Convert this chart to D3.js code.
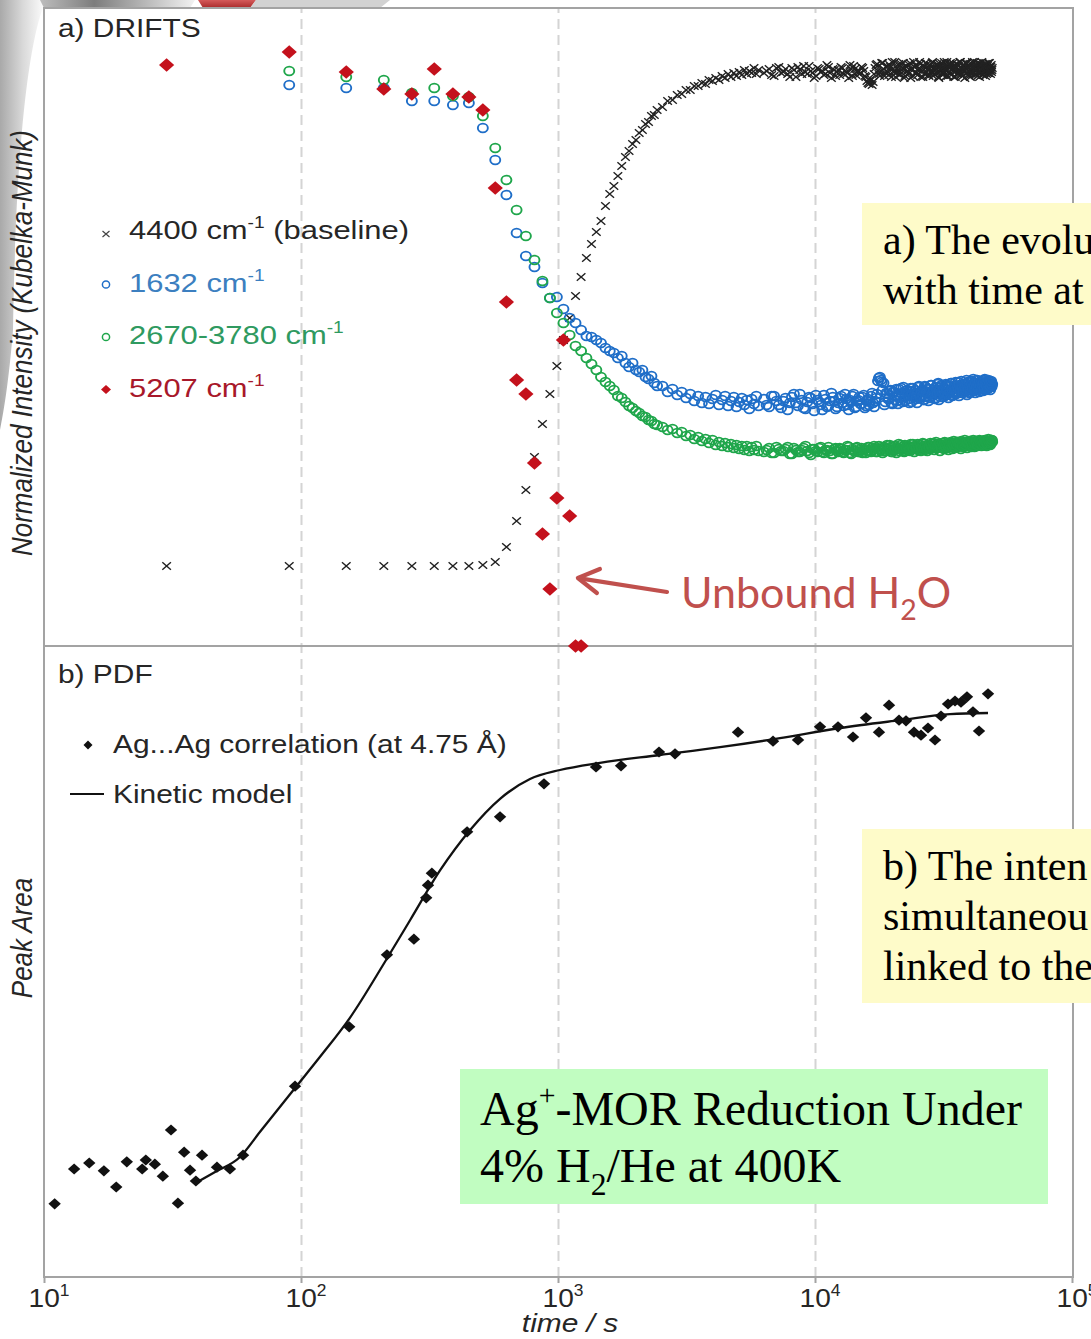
<!DOCTYPE html>
<html>
<head>
<meta charset="utf-8">
<script src="https://cdn.jsdelivr.net/npm/d3@7"></script>
<style>
  html, body { margin: 0; padding: 0; background: #fff; overflow: hidden; }
  svg { display: block; }
</style>
</head>
<body>
<svg id="chart" width="1091" height="1339"></svg>
<script>
// ---------------- data ----------------
// DRIFTS acquisition times (s)
const driftsTimes = [
  30,90,150,210,270,330,390,450,510,570,630,690,750,810,870,930,990,1050,1110,1170,
  1230,1290,1350,1410,1470,1530,1590,1650,1710,1770,1830,1890,1950,2010,2070,2130,2190,2250,2310,2370,
  2430,
  2550,2670,2790,2910,3030,3150,3270,3390,3510,3630,3750,3870,3990,4110,4230,4350,4470,4590,4710,4830,
  4950,5070,5190,5310,5430,5550,5670,5790,5910,6030,
  6330,6630,6930,7230,7530,7830,8130,8430,8730,9030,9330,9630,9930,10230,10530,10830,11130,11430,11730,12030,
  12330,12630,12930,13230,13530,13830,14130,14430,14730,15030,15330,15630,15930,16230,16530,16830,17130,17430,17730,18030,
  18330,18630,18930,19230,19530,19830,20130,20430,20730,21030,21330,21630,21930,22230,22530,22830,23130,23430,23730,24030,
  24330,24630,24930,25230,25530,25830,26130,26430,26730,27030,27330,27630,27930,28230,28530,28830,29130,29430,29730,30030,
  30330,30630,30930,31230,31530,31830,32130,32430,32730,33030,33330,33630,33930,34230,34530,34830,35130,35430,35730,36030,
  36330,36630,36930,37230,37530,37830,38130,38430,38730,39030,39330,39630,39930,40230,40530,40830,41130,41430,41730,42030,
  42330,42630,42930,43230,43530,43830,44130,44430,44730,45030,45330,45630,45930,46230,46530,46830,47130,47430,47730,48030,
  48330,48630,48930
];

// 4400 cm-1 baseline, normalized Kubelka-Munk intensity
const baseline4400 = [
  0,0,0,0,0,0,0,0,0.002,0.008,0.038,0.090,0.152,0.218,0.284,0.344,0.400,0.452,0.496,0.540,
  0.578,0.616,0.644,0.668,0.690,0.720,0.744,0.760,0.780,0.800,0.818,0.830,0.844,0.852,0.866,0.872,0.884,0.888,0.900,0.902,
  0.912,
  0.918,0.930,0.932,0.942,0.944,0.952,0.952,0.960,0.960,0.966,0.964,0.972,0.970,0.976,0.972,0.980,0.976,0.984,0.978,0.986,
  0.980,0.988,0.982,0.992,0.984,0.990,0.986,0.996,0.984,0.992,
  0.986,0.994,0.980,0.998,0.988,0.984,0.996,0.978,0.992,1.000,0.984,0.990,0.976,0.996,0.988,0.982,1.002,0.986,0.994,0.980,
  0.992,0.998,0.984,0.988,0.976,0.994,1.000,0.982,0.990,0.986,0.996,0.980,0.970,0.964,0.974,0.968,
  0.996,1.004,0.984,0.990,1.006,0.980,0.998,0.988,1.002,0.978,0.994,1.008,0.986,0.992,0.982,1.004,0.996,0.976,1.000,0.990,
  0.984,1.006,0.994,0.980,0.998,1.002,0.986,0.992,1.008,0.978,0.990,1.000,0.984,0.996,1.004,0.982,0.994,0.988,1.006,0.980,
  0.998,0.992,1.002,0.986,0.976,1.004,0.990,0.996,0.984,1.008,0.992,0.980,1.000,0.988,0.996,1.006,0.982,0.994,0.990,1.002,
  0.978,0.998,1.004,0.986,0.992,1.008,0.984,0.996,0.980,1.000,0.990,1.006,0.986,0.994,0.982,1.002,0.998,0.978,0.992,1.004,
  0.988,0.996,1.008,0.984,0.990,1.000,0.980,0.994,1.006,0.986,0.998,0.992,1.002,0.982,0.996,0.988,1.004,0.990,0.984,1.000,
  0.994,0.986,1.006,0.992,0.998,0.988,0.996
];

// 1632 cm-1 band
const band1632 = [
  null,0.962,0.956,0.956,0.930,0.930,0.922,0.926,0.876,0.812,0.742,0.666,0.620,0.598,0.566,0.536,0.538,0.514,0.496,0.486,
  0.472,0.460,0.458,0.452,0.446,0.436,0.430,0.426,0.416,0.420,0.406,0.398,0.406,0.392,0.388,0.392,0.378,0.374,0.380,0.366,
  0.360,
  0.360,0.348,0.354,0.342,0.348,0.336,0.344,0.330,0.340,0.326,0.338,0.324,0.334,0.342,0.322,0.332,0.340,0.320,0.330,0.338,
  0.318,0.328,0.336,0.322,0.332,0.314,0.334,0.324,0.340,0.320,
  0.334,0.318,0.340,0.322,0.330,0.312,0.338,0.326,0.344,0.316,0.328,0.336,0.310,0.332,0.322,0.342,0.318,0.330,0.338,0.314,
  0.326,0.340,0.320,0.334,0.312,0.328,0.344,0.318,0.332,0.324,0.338,0.316,0.330,0.322,0.340,0.326,
  0.330,0.344,0.376,0.372,0.352,0.322,0.346,0.334,0.350,0.326,0.348,0.332,0.354,0.324,0.342,0.356,0.328,0.346,0.338,0.352,
  0.334,0.350,0.328,0.356,0.340,0.346,0.326,0.358,0.336,0.348,0.352,0.332,0.360,0.338,0.354,0.330,0.348,0.362,0.340,0.344,
  0.356,0.336,0.350,0.364,0.332,0.352,0.344,0.360,0.338,0.354,0.342,0.362,0.346,0.336,0.358,0.350,0.366,0.340,0.354,0.348,
  0.360,0.344,0.356,0.368,0.340,0.352,0.362,0.346,0.358,0.350,0.364,0.348,0.358,0.342,0.368,0.354,0.346,0.362,0.352,0.370,
  0.350,0.360,0.366,0.346,0.358,0.372,0.352,0.364,0.348,0.362,0.368,0.354,0.362,0.350,0.372,0.358,0.366,0.352,0.364,0.360,
  0.356,0.370,0.362,0.352,0.368,0.358,0.364
];

// 2670-3780 cm-1 band
const band2670 = [
  null,0.990,0.978,0.972,0.946,0.956,0.940,0.938,0.900,0.836,0.772,0.712,0.660,0.612,0.570,0.536,0.506,0.486,0.462,0.440,
  0.430,0.416,0.404,0.392,0.378,0.368,0.360,0.352,0.340,0.336,0.328,0.320,0.316,0.310,0.306,0.300,0.298,0.292,0.290,0.284,
  0.282,
  0.278,0.272,0.274,0.266,0.268,0.260,0.262,0.254,0.258,0.250,0.254,0.246,0.252,0.242,0.248,0.240,0.246,0.238,0.244,0.236,
  0.242,0.234,0.240,0.232,0.240,0.230,0.238,0.232,0.240,0.230,
  0.228,0.236,0.226,0.234,0.230,0.238,0.224,0.232,0.228,0.236,0.230,0.222,0.234,0.228,0.238,0.226,0.232,0.230,0.224,0.236,
  0.228,0.234,0.226,0.232,0.238,0.224,0.230,0.236,0.228,0.232,0.226,0.234,0.230,0.238,0.228,0.232,
  0.236,0.228,0.240,0.232,0.226,0.238,0.230,0.234,0.242,0.228,0.232,0.240,0.226,0.236,0.230,0.242,0.234,0.228,0.238,0.232,
  0.240,0.230,0.236,0.244,0.228,0.234,0.238,0.232,0.242,0.230,0.236,0.244,0.232,0.238,0.230,0.242,0.234,0.240,0.236,0.246,
  0.232,0.240,0.236,0.244,0.238,0.230,0.242,0.236,0.246,0.234,0.240,0.236,0.244,0.232,0.242,0.238,0.246,0.234,0.240,0.244,
  0.236,0.242,0.248,0.238,0.244,0.240,0.234,0.246,0.242,0.238,0.244,0.240,0.248,0.236,0.242,0.246,0.240,0.250,0.238,0.244,
  0.242,0.248,0.238,0.246,0.244,0.250,0.240,0.246,0.242,0.248,0.244,0.240,0.250,0.246,0.242,0.248,0.244,0.252,0.240,0.246,
  0.248,0.244,0.250,0.242,0.246,0.252,0.248
];

// interleaved late spectra (s), same three bands
const driftsTimesLate = [
  6480,6780,7080,7380,7680,7980,8280,8580,8880,9180,9480,9780,10080,10380,10680,10980,11280,11580,11880,12180,
  12480,12780,13080,13380,13680,13980,14280,14580,14880,15180,15480,15780,16080,16380,16680,16980,17280,17580,17880,18180,
  18480,18780,19080,19380,19680,19980,20280,20580,20880,21180,21480,21780,22080,22380,22680,22980,23280,23580,23880,24180,
  24480,24780,25080,25380,25680,25980,26280,26580,26880,27180,27480,27780,28080,28380,28680,28980,29280,29580,29880,30180,
  30480,30780,31080,31380,31680,31980,32280,32580,32880,33180,33480,33780,34080,34380,34680,34980,35280,35580,35880,36180,
  36480,36780,37080,37380,37680,37980,38280,38580,38880,39180,39480,39780,40080,40380,40680,40980,41280,41580,41880,42180,
  42480,42780,43080,43380,43680,43980,44280,44580,44880,45180,45480,45780,46080,46380,46680,46980,47280,47580,47880,48180,
  48480,48780
];
const baseline4400Late = [
  0.990,0.982,0.996,0.986,0.994,0.978,0.992,0.998,0.984,0.988,1.000,0.986,0.980,0.994,0.990,0.984,0.998,0.976,0.992,0.988,
  0.982,0.996,0.990,0.986,1.002,0.980,0.994,0.988,0.984,0.998,0.990,0.978,0.966,0.970,0.962,0.984,1.002,0.990,0.980,1.006,
  0.994,0.986,1.000,0.982,0.998,1.008,0.988,0.978,0.996,1.004,0.984,0.992,1.006,0.980,0.998,0.990,1.002,0.976,0.994,1.008,
  0.986,1.000,0.982,0.996,1.004,0.990,0.978,0.998,1.006,0.988,0.994,0.980,1.002,0.990,1.008,0.984,0.996,0.986,1.004,0.978,
  0.998,0.992,1.006,0.982,0.988,1.000,0.994,1.008,0.980,0.996,1.002,0.986,0.992,1.006,0.978,0.998,0.990,1.004,0.984,1.000,
  0.988,1.008,0.982,0.996,0.992,1.002,0.976,0.994,1.006,0.986,0.998,0.980,1.004,0.990,0.984,1.008,0.996,0.988,1.000,0.982,
  0.994,1.006,0.986,0.998,0.978,1.002,0.992,1.008,0.984,0.996,0.988,1.000,0.980,1.004,0.994,0.986,1.006,0.990,0.998,0.984,
  1.002,0.992
];
const band1632Late = [
  0.322,0.340,0.330,0.316,0.336,0.326,0.344,0.320,0.332,0.314,0.338,0.324,0.342,0.328,0.312,0.334,0.320,0.346,0.330,0.318,
  0.336,0.326,0.344,0.322,0.332,0.340,0.316,0.330,0.338,0.324,0.342,0.320,0.334,0.328,0.346,0.318,0.336,0.370,0.378,0.368,
  0.366,0.328,0.344,0.336,0.352,0.324,0.348,0.340,0.330,0.354,0.336,0.346,0.358,0.330,0.350,0.342,0.326,0.356,0.344,0.338,
  0.352,0.334,0.346,0.360,0.338,0.350,0.342,0.332,0.358,0.348,0.340,0.354,0.336,0.362,0.346,0.352,0.334,0.358,0.344,0.366,
  0.350,0.338,0.362,0.346,0.356,0.340,0.364,0.352,0.344,0.360,0.348,0.366,0.354,0.342,0.360,0.350,0.368,0.346,0.358,0.354,
  0.362,0.350,0.370,0.356,0.346,0.364,0.358,0.352,0.372,0.360,0.354,0.368,0.360,0.348,0.364,0.356,0.374,0.362,0.352,0.366,
  0.358,0.372,0.364,0.354,0.368,0.360,0.350,0.370,0.362,0.366,0.356,0.374,0.364,0.360,0.368,0.354,0.372,0.362,0.366,0.358,
  0.370,0.362
];
const band2670Late = [
  0.232,0.226,0.238,0.230,0.234,0.224,0.236,0.228,0.232,0.240,0.226,0.234,0.230,0.236,0.228,0.232,0.238,0.224,0.234,0.230,
  0.236,0.228,0.232,0.240,0.226,0.234,0.230,0.238,0.228,0.236,0.232,0.226,0.238,0.230,0.236,0.240,0.228,0.234,0.232,0.238,
  0.230,0.236,0.242,0.232,0.238,0.228,0.240,0.234,0.236,0.244,0.234,0.238,0.230,0.242,0.236,0.240,0.232,0.244,0.238,0.234,
  0.240,0.236,0.244,0.232,0.242,0.238,0.246,0.236,0.240,0.234,0.242,0.238,0.246,0.240,0.236,0.244,0.240,0.248,0.238,0.242,
  0.244,0.240,0.236,0.246,0.242,0.248,0.238,0.244,0.240,0.246,0.242,0.248,0.240,0.244,0.250,0.238,0.246,0.242,0.248,0.244,
  0.246,0.242,0.250,0.240,0.248,0.244,0.252,0.242,0.246,0.248,0.244,0.250,0.242,0.248,0.246,0.240,0.252,0.246,0.244,0.250,
  0.248,0.242,0.250,0.246,0.252,0.244,0.248,0.242,0.250,0.246,0.244,0.252,0.248,0.246,0.250,0.242,0.254,0.248,0.246,0.250,
  0.248,0.252
];

// 5207 cm-1 band (recorded until it drops off the scale)
const times5207 = [30,90,150,210,270,330,390,450,510,570,630,690,750,810,870,930,990,1050,1110,1170,1230];
const band5207 = [1.002,1.028,0.988,0.954,0.944,0.994,0.944,0.938,0.912,0.756,0.528,0.372,0.344,0.206,0.064,-0.046,0.136,0.452,0.100,-0.160,-0.160];

// PDF: Ag...Ag peak area vs time
const pdfTimes = [11.0,13.1,15.0,17.1,19.1,21.0,24.1,24.9,27.0,29.0,31.2,33.2,35.1,37.0,39.0,41.2,47.1,52.9,59.5,94.8,
  154,216,275,307,312,323,443,595,882,1406,1759,2472,2853,5017,6865,8590,10460,12290,14060,15790,
  17740,19410,21230,22600,24280,25850,27530,29310,30930,32930,35050,36990,39030,41190,43460,47120];
const pdfArea = [1.22,1.80,1.90,1.77,1.50,1.92,1.80,1.95,1.88,1.68,2.45,1.23,2.08,1.78,1.60,2.03,1.83,1.80,2.03,3.18,
  4.17,5.37,5.63,6.32,6.53,6.73,7.42,7.67,8.22,8.50,8.52,8.75,8.72,9.08,8.93,8.95,9.17,9.17,9.00,9.32,
  9.08,9.53,9.28,9.27,9.08,9.03,9.15,8.95,9.35,9.55,9.60,9.58,9.67,9.42,9.10,9.72];

// kinetic model curve
const modelTimes = [39,46.3,57.9,69.3,94.8,118.6,155,212,266,348,455,595,778,1018,1457,2494,4270,7309,12510,21420,33530,47120];
const modelArea = [1.57,1.75,2.00,2.42,3.15,3.67,4.32,5.25,5.95,6.78,7.45,7.97,8.30,8.45,8.57,8.70,8.83,8.98,9.15,9.28,9.38,9.40];

// axis ticks
const decadeTicks = [10, 100, 1000, 10000, 100000];
const tickExponents = ["1", "2", "3", "4", "5"];
const gridTicks = [100, 1000, 10000];

// legend labels (objects mark superscripts)
const legendLabelsA = [
  ["4400 cm", {sup: "-1"}, " (baseline)"],
  ["1632 cm", {sup: "-1"}],
  ["2670-3780 cm", {sup: "-1"}],
  ["5207 cm", {sup: "-1"}]
];
const legendLabelsB = [["Ag...Ag correlation (at 4.75 Å)"], ["Kinetic model"]];

// ---------------- layout ----------------
const svg = d3.select("#chart");
const plotL = 44, plotR = 1073, topA = 8, divY = 646, bottomB = 1277;
const SX = 1.15;                       // horizontal stretch of the figure text
const sans = "'Liberation Sans', Arial, sans-serif";
const serif = "'Liberation Serif', 'Times New Roman', serif";
const inkCol = "#262626";
const frameCol = "#a3a3a3";
const col4400 = "#222222", col1632 = "#1f6ec8", col2670 = "#1fa64b", col5207 = "#c4111c";

const x = d3.scaleLog().domain([10, 1e5]).range([plotL, 1072]);
const yA = d3.scaleLinear().domain([-0.16, 1.116]).range([divY, topA]);
const yB = d3.scaleLinear().domain([0, 10.5]).range([bottomB, 647]);

svg.append("rect").attr("width", 1091).attr("height", 1339).attr("fill", "#fff");

// ---------- slide ornament behind the figure (top-left) ----------
const defs = svg.append("defs");
const g1 = defs.append("linearGradient").attr("id", "sideFade").attr("x1", 0).attr("x2", 1).attr("y1", 0).attr("y2", 0);
g1.append("stop").attr("offset", 0).attr("stop-color", "#a9a9a9");
g1.append("stop").attr("offset", 0.5).attr("stop-color", "#d9d9d9");
g1.append("stop").attr("offset", 1).attr("stop-color", "#ffffff");
const g2 = defs.append("linearGradient").attr("id", "topFade").attr("x1", 0).attr("x2", 1).attr("y1", 0).attr("y2", 0);
g2.append("stop").attr("offset", 0).attr("stop-color", "#bdbdbd");
g2.append("stop").attr("offset", 0.35).attr("stop-color", "#7d7d7d");
g2.append("stop").attr("offset", 1).attr("stop-color", "#f2f2f2");
const g3 = defs.append("linearGradient").attr("id", "redFade").attr("x1", 0).attr("x2", 0).attr("y1", 0).attr("y2", 1);
g3.append("stop").attr("offset", 0).attr("stop-color", "#d45a5a");
g3.append("stop").attr("offset", 1).attr("stop-color", "#a82a2a");

const orn = svg.append("g");
orn.append("path").attr("d", "M0,0 L46,0 C28,40 16,150 13,330 C9,380 4,410 0,430 Z").attr("fill", "url(#sideFade)");
orn.append("path").attr("d", "M40,0 L195,0 L190,8 L44,8 Z").attr("fill", "url(#topFade)");
orn.append("path").attr("d", "M198,0 L256,0 L250,8 L203,8 Z").attr("fill", "url(#redFade)");
orn.append("path").attr("d", "M256,0 L390,0 L380,8 L250,8 Z").attr("fill", "#c7c7c7").attr("opacity", 0.8);

// ---------- gridlines and ticks ----------
svg.append("g")
  .attr("transform", `translate(0,${bottomB})`)
  .call(d3.axisBottom(x).tickValues(gridTicks).tickSize(-(bottomB - topA)).tickFormat(""))
  .call(g => g.select(".domain").remove())
  .call(g => g.selectAll(".tick line").attr("stroke", "#d4d4d4").attr("stroke-width", 2).attr("stroke-dasharray", "10,6"));

svg.append("g")
  .attr("transform", `translate(0,${bottomB})`)
  .call(d3.axisBottom(x).tickValues(decadeTicks).tickSize(6).tickFormat(""))
  .call(g => g.select(".domain").remove())
  .call(g => g.selectAll(".tick line").attr("stroke", frameCol).attr("stroke-width", 2));

// ---------- frame ----------
const frame = svg.append("g").attr("stroke", frameCol).attr("stroke-width", 2).attr("fill", "none");
frame.append("rect").attr("x", plotL).attr("y", topA).attr("width", plotR - plotL).attr("height", bottomB - topA);
frame.append("line").attr("x1", plotL).attr("x2", plotR).attr("y1", divY).attr("y2", divY);

// ---------- text helpers ----------
function rich(textSel, parts, size) {
  let cur = 0;
  parts.forEach(p => {
    let target = 0, str = p, fs = null;
    if (typeof p !== "string") {
      if (p.sup !== undefined) { target = -0.42 * size; str = p.sup; fs = 0.62 * size; }
      else { target = 0.28 * size; str = p.sub; fs = 0.66 * size; }
    }
    const t = textSel.append("tspan").attr("dy", target - cur).text(str);
    if (fs) t.attr("font-size", fs);
    cur = target;
  });
  return textSel;
}
function stretched(parent, tx, ty, sx) {
  return parent.append("g").attr("transform", `translate(${tx},${ty}) scale(${sx},1)`);
}

// ---------- tick labels ----------
decadeTicks.forEach((t, i) => {
  const tt = stretched(svg, x(t) + 5, 1307, 1.08).append("text")
    .attr("text-anchor", "middle").attr("font-family", sans).attr("font-size", 26).attr("fill", inkCol);
  rich(tt, ["10", {sup: tickExponents[i]}], 26);
});
stretched(svg, 570, 1332, SX).append("text")
  .attr("text-anchor", "middle").attr("font-family", sans).attr("font-size", 26)
  .attr("font-style", "italic").attr("fill", inkCol).text("time / s");

// axis titles
svg.append("text")
  .attr("transform", `translate(32,343) scale(${SX},1) rotate(-90)`)
  .attr("text-anchor", "middle").attr("font-family", sans).attr("font-size", 26)
  .attr("font-style", "italic").attr("fill", inkCol).text("Normalized Intensity (Kubelka-Munk)");
svg.append("text")
  .attr("transform", `translate(32,938) scale(${SX},1) rotate(-90)`)
  .attr("text-anchor", "middle").attr("font-family", sans).attr("font-size", 26)
  .attr("font-style", "italic").attr("fill", inkCol).text("Peak Area");

// ---------- marker shapes ----------
const crossPath = "M-4.3,-3.7L4.3,3.7M-4.3,3.7L4.3,-3.7";
const diamondRed = "M0,-6.8L7.6,0L0,6.8L-7.6,0Z";
const diamondBlack = "M0,-5.6L6.2,0L0,5.6L-6.2,0Z";

function pairs(ts, vs) { return d3.zip(ts, vs).filter(d => d[1] !== null); }
function allPairs(vs, vsLate) {
  return pairs(driftsTimes, vs).concat(pairs(driftsTimesLate, vsLate));
}

// ---------- panel a: DRIFTS ----------
const pa = svg.append("g");
pa.append("g").selectAll("path").data(allPairs(baseline4400, baseline4400Late)).join("path")
  .attr("d", crossPath)
  .attr("transform", d => `translate(${x(d[0])},${yA(d[1])})`)
  .attr("stroke", col4400).attr("stroke-width", 1.45).attr("fill", "none");

pa.append("g").selectAll("ellipse").data(allPairs(band1632, band1632Late)).join("ellipse")
  .attr("cx", d => x(d[0])).attr("cy", d => yA(d[1])).attr("rx", 5).attr("ry", 4.4)
  .attr("fill", "none").attr("stroke", col1632).attr("stroke-width", 1.9);

pa.append("g").selectAll("ellipse").data(allPairs(band2670, band2670Late)).join("ellipse")
  .attr("cx", d => x(d[0])).attr("cy", d => yA(d[1])).attr("rx", 5).attr("ry", 4.4)
  .attr("fill", "none").attr("stroke", col2670).attr("stroke-width", 1.9);

pa.append("g").selectAll("path").data(pairs(times5207, band5207)).join("path")
  .attr("d", diamondRed)
  .attr("transform", d => `translate(${x(d[0])},${yA(d[1])})`)
  .attr("fill", col5207);

// panel a caption and legend
stretched(svg, 58, 37, SX).append("text")
  .attr("font-family", sans).attr("font-size", 26).attr("fill", inkCol).text("a) DRIFTS");

const legA = svg.append("g");
const legColsA = [inkCol, "#3c7fc0", "#2f9a60", "#a8182a"];
legendLabelsA.forEach((lab, i) => {
  const by = 239 + i * 52.5;
  const my = by - 7;
  if (i === 0) {
    legA.append("path").attr("d", "M-3.5,-3L3.5,3M-3.5,3L3.5,-3")
      .attr("transform", `translate(106,${my + 2})`).attr("stroke", "#444").attr("stroke-width", 1.2);
  } else if (i < 3) {
    legA.append("circle").attr("cx", 106).attr("cy", my).attr("r", 3.6)
      .attr("fill", "none").attr("stroke", i === 1 ? col1632 : col2670).attr("stroke-width", 1.5);
  } else {
    legA.append("path").attr("d", "M0,-4.5L5,0L0,4.5L-5,0Z").attr("transform", `translate(106,${my})`).attr("fill", col5207);
  }
  const t = stretched(legA, 129, by, 1.19).append("text")
    .attr("font-family", sans).attr("font-size", 26).attr("fill", legColsA[i]);
  rich(t, lab, 26);
});

// Unbound water annotation
const tipX = x(times5207[15]) + 28, tipY = yA(band5207[15]) - 11;
const ann = svg.append("g").attr("stroke", "#c0504d").attr("stroke-width", 4.2).attr("fill", "none")
  .attr("stroke-linecap", "round").attr("stroke-linejoin", "round");
ann.append("line").attr("x1", tipX + 2).attr("y1", tipY + 0.4).attr("x2", 667).attr("y2", 592);
ann.append("polyline").attr("points", `${tipX + 22},${tipY - 9} ${tipX},${tipY} ${tipX + 19},${tipY + 15}`);
const ub = svg.append("text").attr("x", 681).attr("y", 608)
  .attr("font-family", "Lato, 'Open Sans', sans-serif").attr("font-size", 43).attr("fill", "#c0504d");
rich(ub, ["Unbound H", {sub: "2"}, "O"], 43);

// ---------- panel b: PDF ----------
const pb = svg.append("g");
const modelLine = d3.line().x(d => x(d[0])).y(d => yB(d[1])).curve(d3.curveMonotoneX);
pb.append("path").datum(d3.zip(modelTimes, modelArea)).attr("d", modelLine)
  .attr("fill", "none").attr("stroke", "#111").attr("stroke-width", 2.3);
pb.append("g").selectAll("path").data(d3.zip(pdfTimes, pdfArea)).join("path")
  .attr("d", diamondBlack)
  .attr("transform", d => `translate(${x(d[0])},${yB(d[1])})`)
  .attr("fill", "#111");

stretched(svg, 58, 683, SX).append("text")
  .attr("font-family", sans).attr("font-size", 26).attr("fill", inkCol).text("b) PDF");
const legB = svg.append("g");
legB.append("path").attr("d", "M0,-4.5L4.5,0L0,4.5L-4.5,0Z").attr("transform", "translate(88,745)").attr("fill", "#111");
legB.append("line").attr("x1", 70).attr("x2", 104).attr("y1", 794).attr("y2", 794).attr("stroke", "#111").attr("stroke-width", 2);
legendLabelsB.forEach((lab, i) => {
  const t = stretched(legB, 113, 753 + i * 50, SX).append("text")
    .attr("font-family", sans).attr("font-size", 26).attr("fill", inkCol);
  rich(t, lab, 26);
});

// ---------- slide call-out boxes ----------
const boxes = svg.append("g");
boxes.append("rect").attr("x", 862).attr("y", 203).attr("width", 240).attr("height", 122).attr("fill", "#fefbc9");
["a) The evolu", "with time at"].forEach((s, i) => {
  boxes.append("text").attr("x", 883).attr("y", 254 + i * 50)
    .attr("font-family", serif).attr("font-size", 42).attr("fill", "#000").text(s);
});
boxes.append("rect").attr("x", 862).attr("y", 829).attr("width", 240).attr("height", 174).attr("fill", "#fefbc9");
["b) The inten", "simultaneou", "linked to the"].forEach((s, i) => {
  boxes.append("text").attr("x", 883).attr("y", 880 + i * 50)
    .attr("font-family", serif).attr("font-size", 42).attr("fill", "#000").text(s);
});
boxes.append("rect").attr("x", 460).attr("y", 1069).attr("width", 588).attr("height", 135).attr("fill", "#c1fdc1");
const l1 = boxes.append("text").attr("x", 480).attr("y", 1125).attr("font-family", serif).attr("font-size", 48).attr("fill", "#000");
rich(l1, ["Ag", {sup: "+"}, "-MOR Reduction Under"], 48);
const l2 = boxes.append("text").attr("x", 480).attr("y", 1182).attr("font-family", serif).attr("font-size", 48).attr("fill", "#000");
rich(l2, ["4% H", {sub: "2"}, "/He at 400K"], 48);
</script>
</body>
</html>
